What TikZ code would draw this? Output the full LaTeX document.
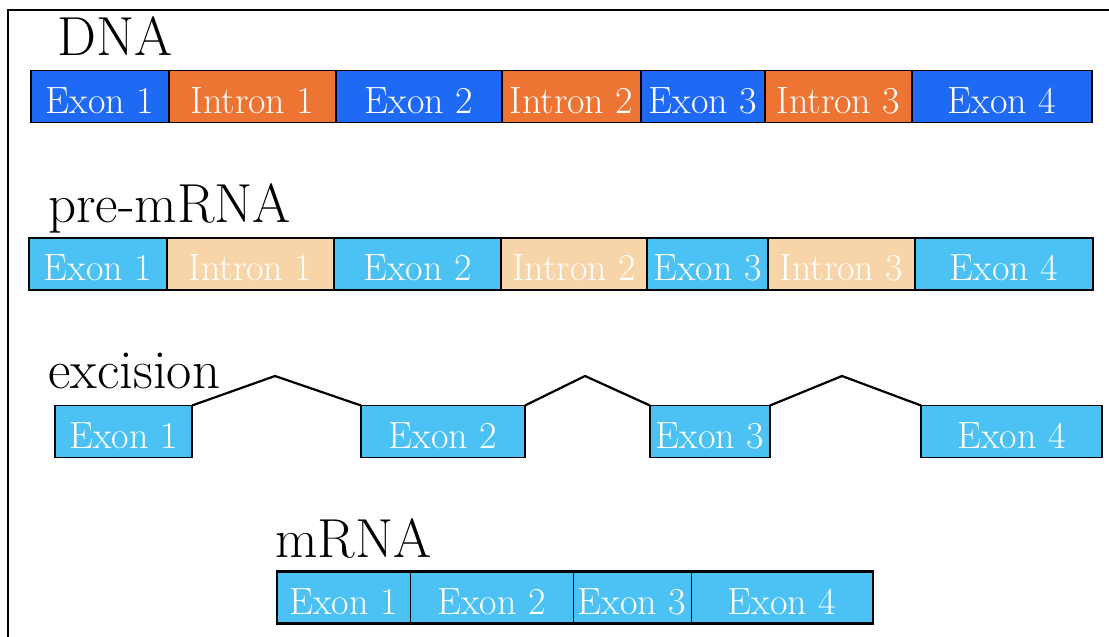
\documentclass[tikz,border=0pt]{standalone}
\usetikzlibrary{positioning}

\definecolor{dnablue}{HTML}{1F6AF5}
\definecolor{dnaorange}{HTML}{EE7433}
\definecolor{rnablue}{HTML}{4CC2F4}
\definecolor{rnatan}{HTML}{F8D5A8}

\begin{document}
\begin{tikzpicture}
    [
        x=1pt, y=-1pt, node distance=0pt,
        seg/.style={draw=black, line width=1.6pt, inner sep=0pt, outer sep=0pt, minimum height=52pt, text=white, text height=34pt, font=\fontsize{38}{42}\selectfont},
        dna_exon/.style={seg, fill=dnablue},
        dna_intron/.style={seg, fill=dnaorange},
        rna_exon/.style={seg, fill=rnablue},
        rna_intron/.style={seg, fill=rnatan},
        mrna_exon/.style={seg, fill=rnablue, line width=0.8pt},
        title/.style={anchor=base west, inner sep=0pt, font=\fontsize{55}{60}\selectfont},
    ]
        \useasboundingbox (0,0) rectangle (1109,637);
        \draw[line width=2pt] (8,645) |- (1115,10);
        % DNA
        \node[title] (t_dna) at (57,55) {DNA};
        \node[dna_exon, minimum width=138pt, anchor=west] (d1) at (31,96.5) {Exon 1};
        \node[dna_intron, minimum width=167pt] (d2) [right = of d1] {Intron 1};
        \node[dna_exon, minimum width=166pt] (d3) [right = of d2] {Exon 2};
        \node[dna_intron, minimum width=139pt] (d4) [right = of d3] {Intron 2};
        \node[dna_exon, minimum width=124pt] (d5) [right = of d4] {Exon 3};
        \node[dna_intron, minimum width=147pt] (d6) [right = of d5] {Intron 3};
        \node[dna_exon, minimum width=180pt] (d7) [right = of d6] {Exon 4};
        % pre-mRNA
        \node[title] (t_pre) at (48,222) {pre-mRNA};
        \node[rna_exon, minimum width=138pt, anchor=west] (p1) at (29,264) {Exon 1};
        \node[rna_intron, minimum width=167pt] (p2) [right = of p1] {Intron 1};
        \node[rna_exon, minimum width=167pt] (p3) [right = of p2] {Exon 2};
        \node[rna_intron, minimum width=146pt] (p4) [right = of p3] {Intron 2};
        \node[rna_exon, minimum width=121pt] (p5) [right = of p4] {Exon 3};
        \node[rna_intron, minimum width=147pt] (p6) [right = of p5] {Intron 3};
        \node[rna_exon, minimum width=178pt] (p7) [right = of p6] {Exon 4};
        % excision
        \node[title] (t_exc) at (48,388) {excision};
        \node[rna_exon, minimum width=137pt] (e1) at (123.5,431.5) {Exon 1};
        \node[rna_exon, minimum width=164pt] (e2) at (443,431.5) {Exon 2};
        \node[rna_exon, minimum width=120pt] (e3) at (710,431.5) {Exon 3};
        \node[rna_exon, minimum width=181pt] (e4) at (1011.5,431.5) {Exon 4};
        \coordinate (k1) at (275,376);
        \coordinate (k2) at (585,376);
        \coordinate (k3) at (842,376);
        \draw[line width=2.2pt] (e1.north east) -- (k1) -- (e2.north west);
        \draw[line width=2.2pt] (e2.north east) -- (k2) -- (e3.north west);
        \draw[line width=2.2pt] (e3.north east) -- (k3) -- (e4.north west);
        % mRNA
        \node[title] (t_m) at (275,557) {mRNA};
        \node[mrna_exon, minimum width=133pt, anchor=west] (m1) at (277,597.5) {Exon 1};
        \node[mrna_exon, minimum width=163pt] (m2) [right = of m1] {Exon 2};
        \node[mrna_exon, minimum width=118pt] (m3) [right = of m2] {Exon 3};
        \node[mrna_exon, minimum width=182pt] (m4) [right = of m3] {Exon 4};
        \draw[line width=2.6pt] (m1.north west) rectangle (m4.south east);
    \end{tikzpicture}
\end{document}
